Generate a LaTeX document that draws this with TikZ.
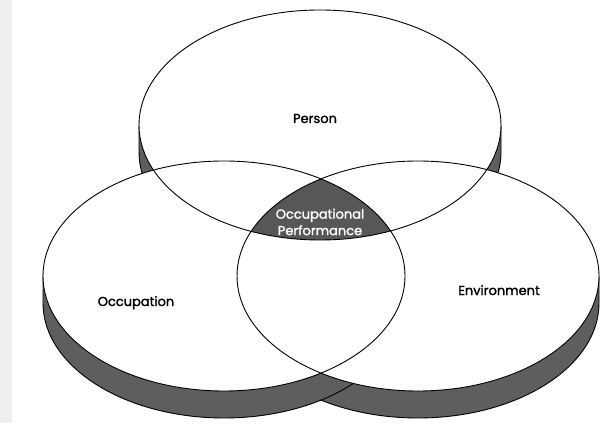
\documentclass[tikz,border=0pt]{standalone}
\usepackage{fontspec}
\setmainfont{Poppins}
\newfontfamily\lblfont{Poppins}[FakeBold=1.6]
\definecolor{bandgray}{HTML}{5E5E5E}
\definecolor{coregray}{HTML}{575757}
\definecolor{stripgray}{HTML}{EEEEEE}
\begin{document}
\begin{tikzpicture}[x=1pt,y=1pt,
  band/.style={fill=bandgray, draw=black, line width=0.9pt, line join=round},
  rim/.style={draw=black, line width=0.9pt},
  disk/.style={x radius=181, y radius=115},
  lbl/.style={font=\lblfont\fontsize{13}{16}\selectfont, text=black, inner sep=0pt},
  corelbl/.style={font=\lblfont\fontsize{13}{16.5}\selectfont, text=white, align=center, inner sep=0pt}]
\useasboundingbox (0,0) rectangle (615,423);
\fill[white] (0,0) rectangle (615,423);
\fill[stripgray] (0,0) rectangle (12,423);
\coordinate (P) at (320,298);
\coordinate (O) at (224,147);
\coordinate (E) at (418,147);
% side bands (thickness of the disks)
\path[band] (139,298) -- (139,271) arc[start angle=180, end angle=360, disk] -- (501,298) -- cycle;
\path[band] (237,147) -- (237,120) arc[start angle=180, end angle=360, disk] -- (599,147) -- cycle;
\path[band] (43,147) -- (43,120) arc[start angle=180, end angle=360, disk] -- (405,147) -- cycle;
% faces
\fill[white] (P) ellipse[disk];
\fill[white] (O) ellipse[disk];
\fill[white] (E) ellipse[disk];
% triple intersection
\begin{scope}
  \clip (P) ellipse[disk];
  \clip (O) ellipse[disk];
  \fill[coregray] (E) ellipse[disk];
\end{scope}
% outlines
\draw[rim] (P) ellipse[disk];
\draw[rim] (O) ellipse[disk];
\draw[rim] (E) ellipse[disk];
% labels
\node[lbl, anchor=base] (person) at (315,300) {Person};
\node[lbl, anchor=base] (occupation) at (136,117) {Occupation};
\node[lbl, anchor=base] (environment) at (499,128) {Environment};
\node[corelbl] (performance) at (320,201) {Occupational\\Performance};
\end{tikzpicture}
\end{document}
